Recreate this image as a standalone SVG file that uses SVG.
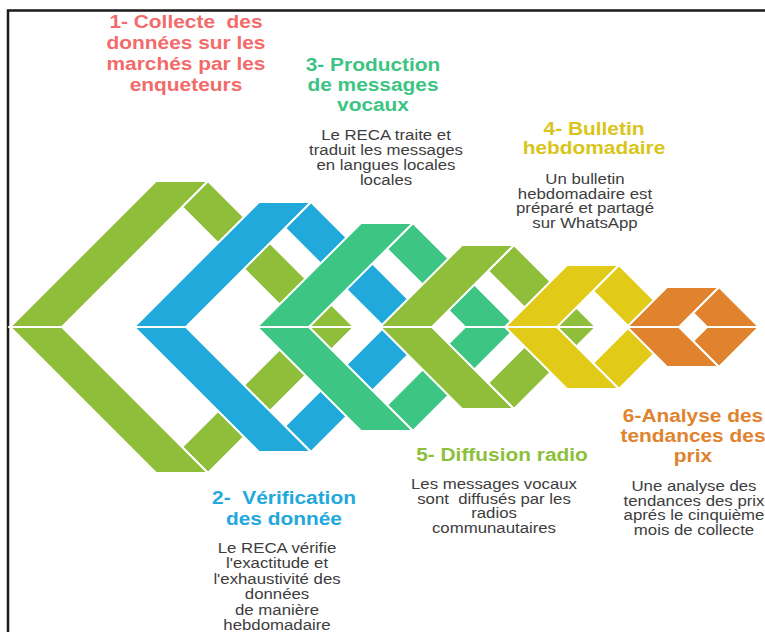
<svg xmlns="http://www.w3.org/2000/svg" width="765" height="632" viewBox="0 0 765 632">
<style>
.p{stroke:#fff;stroke-width:2;stroke-linejoin:miter}
.g{fill:#8FBE3B}.b{fill:#21A9DB}.tl{fill:#3DC583}.y{fill:#E1CB18}.o{fill:#E0822E}
.t{font-family:"Liberation Sans",Arial,sans-serif;font-weight:bold;font-size:18px;text-anchor:middle}
.d{font-family:"Liberation Sans",Arial,sans-serif;font-size:15px;fill:#3d3d3d;text-anchor:middle}
</style>
<rect width="765" height="632" fill="#fff"/>
<path d="M8 632 V10.5 H765" fill="none" stroke="#1a1a1a" stroke-width="2.5"/>
<g id="connectors"></g>
<g id="step1">
<g class="p g">
<polygon points="208,181 354,327 302,327 182,207"/>
<polygon points="208,473 354,327 302,327 182,447"/>
<polygon points="10,327 156,181 208,181 62,327"/>
<polygon points="10,327 62,327 208,473 156,473"/>
</g>
<text class="t" fill="#F26A6A" transform="translate(186,0) scale(1.16,1)"><tspan x="0" y="28">1- Collecte&#160; des</tspan><tspan x="0" y="49">données sur les</tspan><tspan x="0" y="70">marchés par les</tspan><tspan x="0" y="91">enqueteurs</tspan></text>
</g>
<g id="step2">
<g class="p b">
<polygon points="311,202 436,327 384,327 285,228"/>
<polygon points="311,452 436,327 384,327 285,426"/>
<polygon points="134,327 259,202 311,202 186,327"/>
<polygon points="134,327 186,327 311,452 259,452"/>
</g>
<text class="t" fill="#22A8DC" transform="translate(284,0) scale(1.16,1)"><tspan x="0" y="504">2-&#160; Vérification</tspan><tspan x="0" y="525">des donnée</tspan></text>
<text class="d" transform="translate(277,0) scale(1.12,1)"><tspan x="0" y="553">Le RECA vérifie</tspan><tspan x="0" y="568.5">l'exactitude et</tspan><tspan x="0" y="584">l'exhaustivité des</tspan><tspan x="0" y="599.5">données</tspan><tspan x="0" y="615">de manière</tspan><tspan x="0" y="630.5">hebdomadaire</tspan></text>
</g>
<g id="step3">
<g class="p tl">
<polygon points="413,223 517,327 465,327 387,249"/>
<polygon points="413,431 517,327 465,327 387,405"/>
<polygon points="257,327 361,223 413,223 309,327"/>
<polygon points="257,327 309,327 413,431 361,431"/>
</g>
<text class="t" fill="#3CC483" transform="translate(373,0) scale(1.16,1)"><tspan x="0" y="71">3- Production</tspan><tspan x="0" y="91">de messages</tspan><tspan x="0" y="111">vocaux</tspan></text>
<text class="d" transform="translate(386,0) scale(1.12,1)"><tspan x="0" y="140">Le RECA traite et</tspan><tspan x="0" y="155">traduit les messages</tspan><tspan x="0" y="170">en langues locales</tspan><tspan x="0" y="185">locales</tspan></text>
</g>
<g id="step4">
<g class="p g">
<polygon points="514,245 596,327 544,327 488,271"/>
<polygon points="514,409 596,327 544,327 488,383"/>
<polygon points="380,327 462,245 514,245 432,327"/>
<polygon points="380,327 432,327 514,409 462,409"/>
</g>
<text class="t" fill="#D9C51A" transform="translate(594,0) scale(1.16,1)"><tspan x="0" y="135">4- Bulletin</tspan><tspan x="0" y="154">hebdomadaire</tspan></text>
<text class="d" transform="translate(585,0) scale(1.12,1)"><tspan x="0" y="184">Un bulletin</tspan><tspan x="0" y="199">hebdomadaire est</tspan><tspan x="0" y="213.5">préparé et partagé</tspan><tspan x="0" y="228">sur WhatsApp</tspan></text>
</g>
<g id="step5">
<g class="p y">
<polygon points="619,265 681,327 629,327 593,291"/>
<polygon points="619,389 681,327 629,327 593,363"/>
<polygon points="505,327 567,265 619,265 557,327"/>
<polygon points="505,327 557,327 619,389 567,389"/>
</g>
<text class="t" fill="#8CC03C" transform="translate(502,0) scale(1.16,1)"><tspan x="0" y="461">5- Diffusion radio</tspan></text>
<text class="d" transform="translate(494,0) scale(1.12,1)"><tspan x="0" y="489">Les messages vocaux</tspan><tspan x="0" y="504">sont&#160; diffusés par les</tspan><tspan x="0" y="518.5">radios</tspan><tspan x="0" y="533">communautaires</tspan></text>
</g>
<g id="step6">
<g class="p o">
<polygon points="719,287 759,327 707,327 693,313"/>
<polygon points="719,367 759,327 707,327 693,341"/>
<polygon points="627,327 667,287 719,287 679,327"/>
<polygon points="627,327 679,327 719,367 667,367"/>
</g>
<text class="t" fill="#E0832F" transform="translate(693,0) scale(1.16,1)"><tspan x="0" y="422">6-Analyse des</tspan><tspan x="0" y="442">tendances des</tspan><tspan x="0" y="462">prix</tspan></text>
<text class="d" transform="translate(694,0) scale(1.12,1)"><tspan x="0" y="491">Une analyse des</tspan><tspan x="0" y="506">tendances des prix</tspan><tspan x="0" y="520.5">aprés le cinquième</tspan><tspan x="0" y="535">mois de collecte</tspan></text>
</g>
</svg>
